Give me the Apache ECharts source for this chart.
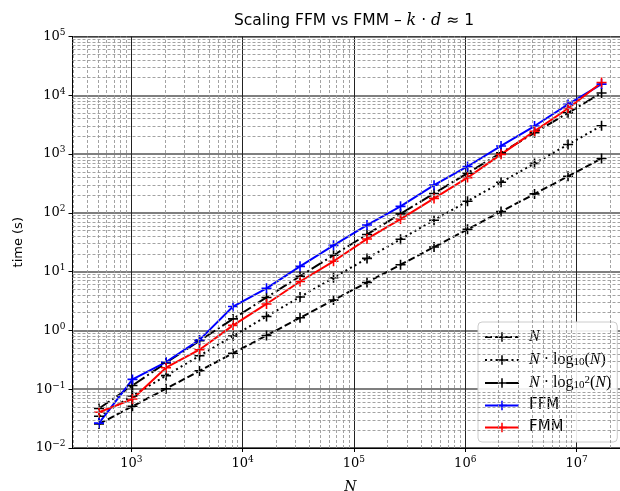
<!DOCTYPE html>
<html><head><meta charset="utf-8">
<script src="https://cdn.jsdelivr.net/npm/echarts@6/dist/echarts.min.js"></script>
<style>html,body{margin:0;padding:0;background:#fff}#c{width:620px;height:491px}</style>
</head><body><div id="c"></div>
<script>
// ---- data ----
const sizes = [512,1024,2048,4096,8192,16384,32768,65536,131072,262144,524288,1048576,2097152,4194304,8388608,16777216];
const refN = [0.0256,0.0512,0.102,0.205,0.41,0.82,1.64,3.28,6.55,13.1,26.2,52.4,105,210,419,839];
const refNlog = [0.0347,0.0771,0.170,0.370,0.801,1.73,3.70,7.89,16.8,35.5,75.0,158,331,694,1452,3030];
const refNlog2 = [0.047,0.116,0.281,0.668,1.57,3.64,8.35,19.0,42.9,96.2,214,475,1048,2300,5027,10950];
const ffm = [0.0265,0.147,0.29,0.69,2.55,5.2,12.3,28,62,129,296,615,1375,3000,7000,15500];
const fmm = [0.0405,0.068,0.232,0.47,1.22,2.82,6.8,15,36,78.5,176,398,990,2450,5950,16500];
const xTickExps = [3,4,5,6,7];
const yTickExps = [-2,-1,0,1,2,3,4,5];
const seriesNames = ['N','NlogN','Nlog2N','FFM','FMM'];
const legendText = {
  'N': '{p|}{i|N}',
  'NlogN': '{p|}{i|N}{r| · log}{sub|10}{r|(}{i|N}{r|)}',
  'Nlog2N': '{p|}{i|N}{r| · log}{sub|10}{sup|2}{r|(}{i|N}{r|)}',
  'FFM': '{p|}{s|FFM}',
  'FMM': '{p|}{s|FMM}'
};
const xMin = 296, xMax = 2.9e7, yMin = 0.01, yMax = 1e5;

// ---- helpers ----
const SERIF = "'DejaVu Serif','Liberation Serif',serif";
const LSERIF = "'Liberation Serif','DejaVu Serif',serif";
const SANS = "'DejaVu Sans',sans-serif";
const plus = 'path://M4.2,0H5.8V4.2H10V5.8H5.8V10H4.2V5.8H0V4.2H4.2Z';
function pairs(v){ return sizes.map((n,i)=>[n, v[i]]); }
const minorX = [], minorY = [];
for (let k=2;k<=7;k++) for (let m=2;m<=9;m++){ const v=m*Math.pow(10,k); if (v>xMin && v<xMax) minorX.push(v); }
for (let k=-2;k<=4;k++) for (let m=2;m<=9;m++){ minorY.push(m*Math.pow(10,k)); }
function powLabel(v, exps){
  const l = Math.log10(v), e = Math.round(l);
  if (Math.abs(l-e) > 1e-6 || exps.indexOf(e) < 0) return '';
  return '{b|10}{s|' + (e<0 ? '\u2212'+(-e) : e) + '}';
}
const labelRich = {
  b: {fontFamily: SERIF, fontSize: 13, color: '#000', lineHeight: 17},
  s: {fontFamily: SERIF, fontSize: 9, color: '#000', verticalAlign: 'top', lineHeight: 17}
};
function lineSeries(name, vals, color, dash){
  return {
    name: name, type: 'line', data: pairs(vals), z: 3,
    symbol: plus, symbolSize: 10, showSymbol: true,
    itemStyle: {color: color},
    lineStyle: {color: color, width: 2, type: dash},
    emphasis: {disabled: true}, animation: false
  };
}

const chart = echarts.init(document.getElementById('c'));
chart.setOption({
  backgroundColor: '#fff',
  animation: false,
  title: {
    text: '{a|Scaling FFM vs FMM \u2013 }{m|k}{a| \u00b7 }{m|d}{a| \u2248 1}',
    left: 349, top: 8, textAlign: 'center',
    textStyle: {fontWeight: 'normal', rich: {
      a: {fontFamily: SANS, fontSize: 15.5, fontWeight: 'normal', color: '#000'},
      m: {fontFamily: SERIF, fontStyle: 'italic', fontWeight: 'normal', fontSize: 16, color: '#000'}
    }}
  },
  grid: {left: 72.5, top: 36.5, right: -8, bottom: 43, show: true, borderColor: '#000', borderWidth: 1, outerBoundsMode: 'none', containLabel: false},
  xAxis: {
    type: 'log', logBase: 10, min: xMin, max: xMax,
    name: 'N', nameLocation: 'middle', nameGap: 32,
    nameTextStyle: {fontFamily: SERIF, fontStyle: 'italic', fontSize: 14, color: '#000'},
    axisLine: {show: true, lineStyle: {color: '#000', width: 1}},
    axisTick: {show: true, inside: false, length: 4, lineStyle: {color: '#000'}},
    axisLabel: {margin: 7, showMinLabel: false, showMaxLabel: false, formatter: v => powLabel(v, xTickExps), rich: labelRich},
    splitLine: {show: true, lineStyle: {color: '#222', width: 1}}
  },
  yAxis: {
    type: 'log', logBase: 10, min: yMin, max: yMax,
    name: 'time (s)', nameLocation: 'middle', nameGap: 46, nameRotate: 90,
    nameTextStyle: {fontFamily: SANS, fontSize: 13, color: '#000'},
    axisLine: {show: true, lineStyle: {color: '#000', width: 1}},
    axisTick: {show: true, inside: false, length: 4, lineStyle: {color: '#000'}},
    axisLabel: {margin: 7, formatter: v => powLabel(v, yTickExps), rich: labelRich},
    splitLine: {show: true, lineStyle: {color: '#555', width: 1.6}}
  },
  legend: {
    orient: 'vertical', left: 478, top: 322,
    padding: [7, 6, 7, 6], itemGap: 7, itemWidth: 34, itemHeight: 12,
    backgroundColor: 'rgba(255,255,255,0.9)', borderColor: '#cccccc', borderWidth: 1, borderRadius: 4,
    data: seriesNames,
    formatter: n => legendText[n],
    selectedMode: false,
    textStyle: {color: '#000', rich: {
      p: {width: 5},
      i: {fontFamily: LSERIF, fontStyle: 'italic', fontSize: 16, color: '#000'},
      r: {fontFamily: LSERIF, fontSize: 16, color: '#000'},
      sub: {fontFamily: LSERIF, fontSize: 11, color: '#000', verticalAlign: 'bottom'},
      sup: {fontFamily: LSERIF, fontSize: 11, color: '#000', verticalAlign: 'top'},
      s: {fontFamily: SANS, fontSize: 15, color: '#000'}
    }}
  },
  series: [
    {
      type: 'line', data: [], z: 1, silent: true, animation: false,
      markLine: {
        silent: true, symbol: ['none','none'], label: {show: false}, animation: false,
        lineStyle: {color: '#999999', type: [3, 2], width: 0.9},
        emphasis: {disabled: true},
        data: minorX.map(v => ({xAxis: v})).concat(minorY.map(v => ({yAxis: v})))
      }
    },
    lineSeries('N', refN, '#000', [7, 3]),
    lineSeries('NlogN', refNlog, '#000', [2, 3.3]),
    lineSeries('Nlog2N', refNlog2, '#000', [12.8, 3.2, 2, 3.2]),
    lineSeries('FFM', ffm, '#0000ff', 'solid'),
    lineSeries('FMM', fmm, '#ff0000', 'solid')
  ]
});
</script></body></html>
